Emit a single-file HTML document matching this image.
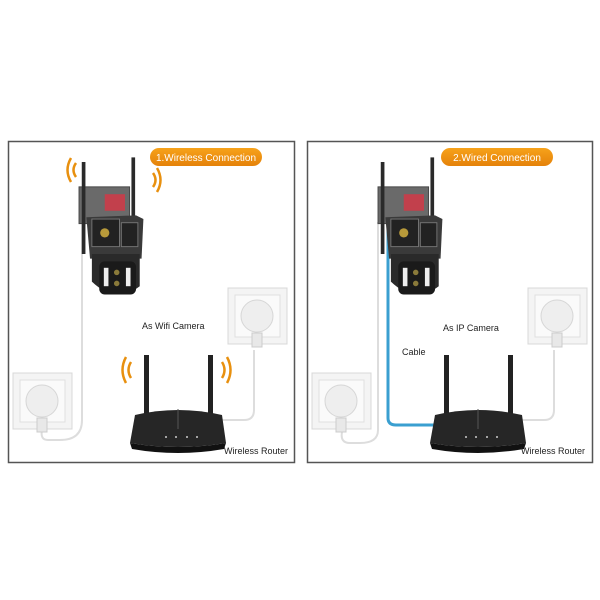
<!DOCTYPE html>
<html><head><style>body{margin:0;background:#fff}svg{display:block}</style></head><body>
<svg width="600" height="600" viewBox="0 0 600 600" xmlns="http://www.w3.org/2000/svg" font-family="Liberation Sans, sans-serif">
<defs>
<linearGradient id="pill" x1="0" y1="0" x2="0" y2="1"><stop offset="0" stop-color="#f7a21a"/><stop offset="1" stop-color="#e5820a"/></linearGradient>
<g id="socket">
<rect x="0" y="0" width="59" height="56" fill="#f4f4f4" stroke="#d8d8d8"/>
<rect x="7" y="7" width="45" height="42" fill="#fafafa" stroke="#e0e0e0"/>
<circle cx="29" cy="28" r="16" fill="#eee" stroke="#d6d6d6"/>
<rect x="24" y="45" width="10" height="14" fill="#e8e8e8" stroke="#ccc"/>
</g>
<g id="router">
<rect x="14" y="-60" width="5" height="62" fill="#222"/>
<rect x="78" y="-60" width="5" height="62" fill="#222"/>
<path d="M5 0 Q48 -10 92 0 L96 28 Q48 36 0 28 Z" fill="#262626"/>
<path d="M0 28 Q48 36 96 28 L94 34 Q48 42 2 34 Z" fill="#111"/>
<line x1="48" y1="-6" x2="48" y2="14" stroke="#555" stroke-width="1"/>
<circle cx="36" cy="22" r="1" fill="#ccc"/><circle cx="46" cy="22" r="1" fill="#ccc"/><circle cx="57" cy="22" r="1" fill="#ccc"/><circle cx="67" cy="22" r="1" fill="#ccc"/>
</g>
<g id="cam">
<rect x="0" y="27" width="55" height="40" fill="#6a6a6a" stroke="#444"/>
<rect x="28" y="35" width="22" height="18" fill="#c2404c"/>
<rect x="3" y="0" width="4" height="100" fill="#2a2a2a"/>
<rect x="57" y="-5" width="4" height="97" fill="#2a2a2a"/>
<path d="M8 60 L62 58 L70 62 L68 105 L12 105 Z" fill="#3a3a3a"/>
<rect x="14" y="62" width="30" height="30" fill="#222" stroke="#777"/>
<circle cx="28" cy="77" r="5" fill="#b89a3a"/>
<rect x="46" y="66" width="18" height="26" fill="#222" stroke="#777"/>
<path d="M14 100 L66 100 L66 135 Q40 155 14 130 Z" fill="#2a2a2a"/>
<rect x="22" y="108" width="40" height="36" rx="6" fill="#1a1a1a"/>
<rect x="27" y="115" width="5" height="20" fill="#eee"/><rect x="51" y="115" width="5" height="20" fill="#eee"/>
<circle cx="41" cy="120" r="3" fill="#8a7a3a"/><circle cx="41" cy="132" r="3" fill="#8a7a3a"/>
</g>
</defs>

<!-- Left panel -->
<rect x="8.5" y="141.5" width="286" height="321" fill="#fff" stroke="#555" stroke-width="1.5"/>
<rect x="150" y="148" width="112" height="18" rx="9" fill="url(#pill)"/>
<text x="206" y="161" font-size="10" fill="#fff" text-anchor="middle">1.Wireless Connection</text>
<path d="M82 222 L82 420 Q82 440 60 440 L48 440 Q40 440 42 430" fill="none" stroke="#ddd" stroke-width="2"/>
<path d="M254 350 L254 410 Q254 420 244 420 L222 420" fill="none" stroke="#ddd" stroke-width="2"/>
<g transform="translate(79,162) scale(0.92)"><use href="#cam"/></g>
<use href="#socket" x="13" y="373"/>
<use href="#socket" x="228" y="288"/>
<use href="#router" x="130" y="415"/>
<text x="142" y="329" font-size="9" fill="#222">As Wifi Camera</text>
<text x="224" y="454" font-size="9" fill="#222">Wireless Router</text>
<g fill="none" stroke="#e8900f" stroke-width="2.5">
<path d="M76 163 Q71 170 76 177"/><path d="M71 158 Q64 170 71 182"/>
<path d="M153 173 Q158 180 153 187"/><path d="M157 168 Q164 180 157 192"/>
<path d="M131 362 Q126 370 131 378"/><path d="M126 357 Q119 370 126 383"/>
<path d="M222 362 Q227 370 222 378"/><path d="M227 357 Q234 370 227 383"/>
</g>

<!-- Right panel -->
<rect x="307.5" y="141.5" width="285" height="321" fill="#fff" stroke="#555" stroke-width="1.5"/>
<rect x="441" y="148" width="112" height="18" rx="9" fill="url(#pill)"/>
<text x="497" y="161" font-size="10" fill="#fff" text-anchor="middle">2.Wired Connection</text>
<path d="M378 222 L378 430 Q378 443 360 443 L350 443 Q340 443 342 432" fill="none" stroke="#ddd" stroke-width="2"/>
<path d="M388 225 L388 418 Q388 425 396 425 L435 425" fill="none" stroke="#3a9fd0" stroke-width="3"/>
<path d="M554 350 L554 410 Q554 420 544 420 L522 420" fill="none" stroke="#ddd" stroke-width="2"/>
<g transform="translate(378,162) scale(0.92)"><use href="#cam"/></g>
<use href="#socket" x="312" y="373"/>
<use href="#socket" x="528" y="288"/>
<use href="#router" x="430" y="415"/>
<text x="443" y="331" font-size="9" fill="#222">As IP Camera</text>
<text x="402" y="355" font-size="9" fill="#222">Cable</text>
<text x="521" y="454" font-size="9" fill="#222">Wireless Router</text>
</svg>
</body></html>
